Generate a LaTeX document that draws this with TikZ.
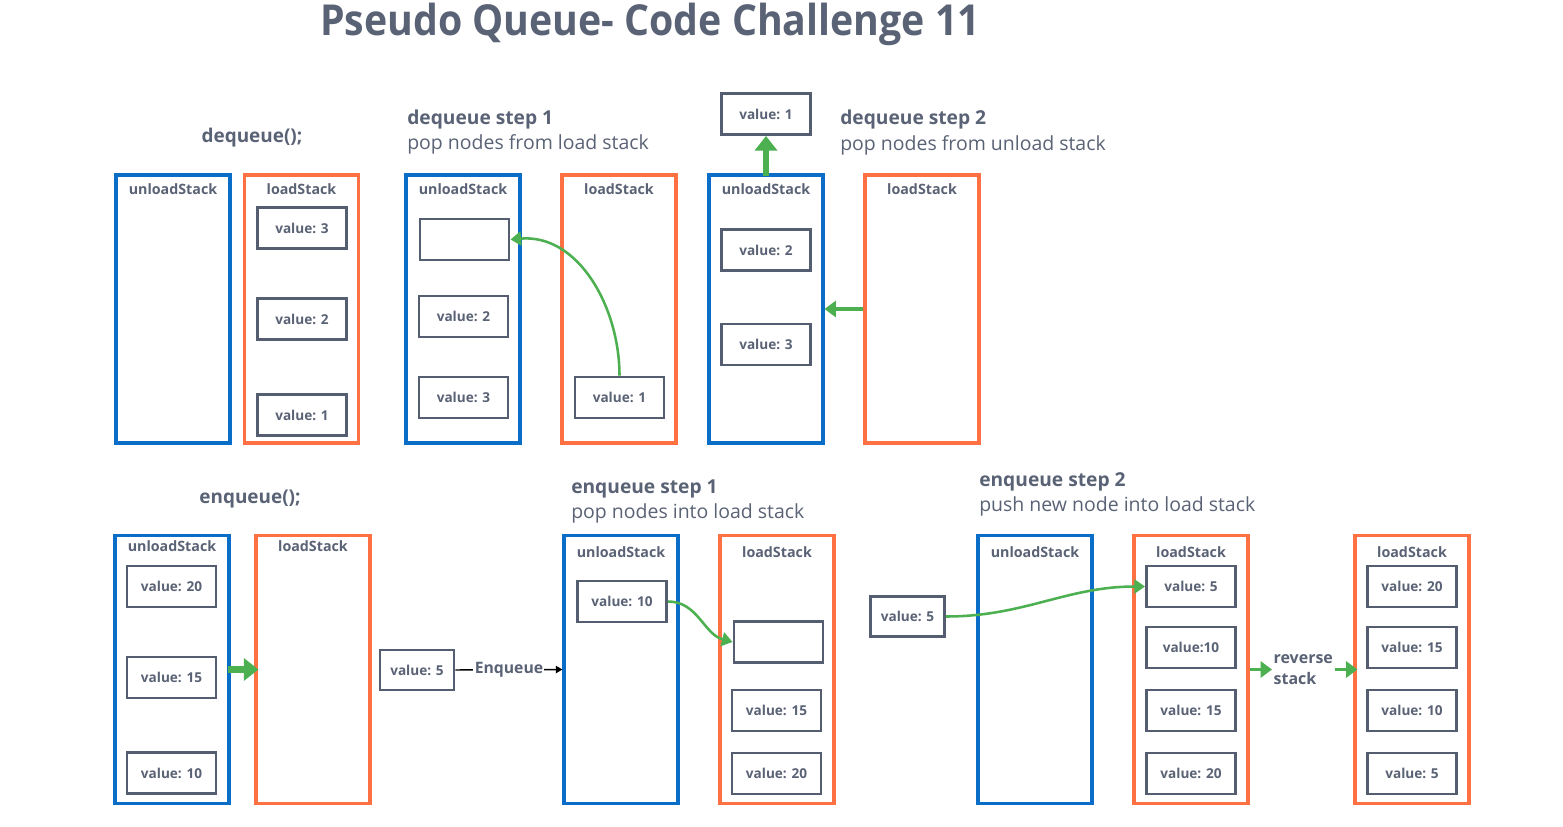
\documentclass[tikz,border=0pt]{standalone}
\usepackage{fontspec}
\setmainfont{Open Sans}
\newfontfamily\titlef[FakeStretch=0.92]{Open Sans}
\usetikzlibrary{arrows.meta}
\definecolor{ublue}{HTML}{0A6EC8}
\definecolor{lorange}{HTML}{FF7043}
\definecolor{sgray}{HTML}{555E70}
\definecolor{tgray}{HTML}{5A6275}
\definecolor{mgreen}{HTML}{4CAF50}
\tikzset{
  cont/.style={draw=#1, line width=2.3pt, minimum width=85.5pt, minimum height=201pt, inner sep=0pt},
  clabel/.style={text=tgray, font=\bfseries\fontsize{10.7pt}{13pt}\selectfont, inner sep=0pt},
  vbox/.style={draw=sgray, line width=2.2pt, minimum width=66.75pt, minimum height=30.75pt, inner sep=0pt,
    text=tgray, font=\bfseries\fontsize{10.2pt}{12pt}\selectfont},
  sbox/.style={vbox, minimum width=55.5pt, minimum height=30pt},
  heading/.style={anchor=base west, text=tgray, font=\bfseries\fontsize{14.4pt}{17pt}\selectfont, inner sep=0pt},
  subhead/.style={anchor=base west, text=tgray, font=\fontsize{14.6pt}{17pt}\selectfont, inner sep=0pt},
  fname/.style={anchor=base, text=tgray, font=\bfseries\fontsize{14.2pt}{17pt}\selectfont, inner sep=0pt},
  curvearrow/.style={draw=mgreen, line width=1.9pt, -{Triangle[length=8pt,width=10.5pt]}},
  midarrow/.style={draw=mgreen, line width=2.6pt, -{Triangle[length=8.5pt,width=12pt]}},
  bigarrow/.style={draw=mgreen, line width=4.9pt, -{Triangle[length=11pt,width=16.5pt]}},
  blackarrow/.style={draw=black, line width=1.1pt, -{Triangle[length=5pt,width=5.5pt]}},
}
\begin{document}
\begin{tikzpicture}[x=0.75pt, y=-0.75pt]
\useasboundingbox[fill=white] (0,0) rectangle (1563,827);

% title
\node[anchor=base, text=tgray, font=\titlef\bfseries\fontsize{32pt}{36pt}\selectfont, inner sep=0pt] (title) at (650,36) {Pseudo Queue- Code Challenge 11};

% ---------- dequeue ----------
\node[fname] (deq) at (252,143) {dequeue();};
\node[cont=ublue] (u1) at (173,309) {};
\node[cont=lorange] (l1) at (301.5,309) {};
\node[clabel] (u1t) at (173,189) {unloadStack};
\node[clabel] (l1t) at (301.5,189) {loadStack};
\node[vbox] (l1a) at (302,228) {value: 3};
\node[vbox] (l1b) at (302,319) {value: 2};
\node[vbox] (l1c) at (302,415) {value: 1};

% dequeue step 1
\node[heading] (ds1) at (407,125) {dequeue step 1};
\node[subhead] (ds1s) at (407,150) {pop nodes from load stack};
\node[cont=ublue] (u2) at (463,309) {};
\node[cont=lorange] (l2) at (619,309) {};
\node[clabel] (u2t) at (463,189) {unloadStack};
\node[clabel] (l2t) at (619,189) {loadStack};
\node[vbox] (u2e) at (464.5,239.5) {};
\node[vbox] (u2a) at (463.5,316.5) {value: 2};
\node[vbox] (u2b) at (463.5,397.5) {value: 3};
\node[vbox] (l2a) at (619.5,397.5) {value: 1};
\draw[curvearrow] (l2a.north) to[out=90, in=5] (u2e.east);

% dequeue step 2
\node[heading] (ds2) at (840,125) {dequeue step 2};
\node[subhead] (ds2s) at (840,151) {pop nodes from unload stack};
\node[vbox] (tv1) at (766,114) {value: 1};
\node[cont=ublue] (u3) at (766,309) {};
\node[cont=lorange] (l3) at (922,309) {};
\node[clabel] (u3t) at (766,189) {unloadStack};
\node[clabel] (l3t) at (922,189) {loadStack};
\node[vbox] (u3a) at (766,250) {value: 2};
\node[vbox] (u3b) at (766,344.5) {value: 3};
\draw[bigarrow] ([yshift=-2.25pt]u3.north) -- (tv1.south);
\draw[midarrow] (l3.west) -- (u3.east);

% ---------- enqueue ----------
\node[fname] (enq) at (250,503) {enqueue();};
\node[cont=ublue] (u4) at (172,669.5) {};
\node[cont=lorange] (l4) at (313,669.5) {};
\node[clabel] (u4t) at (172,546) {unloadStack};
\node[clabel] (l4t) at (313,546) {loadStack};
\node[vbox] (u4a) at (171.5,586.5) {value: 20};
\node[vbox] (u4b) at (171.5,677.5) {value: 15};
\node[vbox] (u4c) at (171.5,773) {value: 10};
\draw[bigarrow] ([xshift=-2.25pt]u4.east) -- ([xshift=3pt]l4.west);

\node[sbox] (sv5) at (417,670) {value: 5};

% enqueue step 1
\node[heading] (es1) at (571,493) {enqueue step 1};
\node[subhead] (es1s) at (571,518) {pop nodes into load stack};
\node[cont=ublue] (u5) at (621,669.5) {};
\node[cont=lorange] (l5) at (777,669.5) {};
\node[clabel] (u5t) at (621,552) {unloadStack};
\node[clabel] (l5t) at (777,552) {loadStack};
\node[vbox] (u5a) at (622,601.5) {value: 10};
\node[vbox] (l5e) at (778.5,642) {};
\node[vbox] (l5a) at (776.5,710.5) {value: 15};
\node[vbox] (l5b) at (776.5,773.5) {value: 20};
\draw[blackarrow] (sv5.east) -- node[fill=white, inner sep=1pt, text=tgray, font=\bfseries\fontsize{11.8pt}{14pt}\selectfont] (enqlbl) {Enqueue} (u5.west);
\draw[curvearrow] (u5a.east) to[out=0, in=165] (l5e.west);

\node[sbox] (sv5b) at (907.5,616.5) {value: 5};

% enqueue step 2
\node[heading] (es2) at (979,486) {enqueue step 2};
\node[subhead] (es2s) at (979,511) {push new node into load stack};
\node[cont=ublue] (u6) at (1035,669.5) {};
\node[cont=lorange] (l6) at (1191,669.5) {};
\node[clabel] (u6t) at (1035,552) {unloadStack};
\node[clabel] (l6t) at (1191,552) {loadStack};
\node[vbox] (l6a) at (1191,586.5) {value: 5};
\node[vbox] (l6b) at (1191,647.5) {value:10};
\node[vbox] (l6c) at (1191,710.5) {value: 15};
\node[vbox] (l6d) at (1191,773.5) {value: 20};
\draw[curvearrow] (sv5b.east) to[out=0, in=180] (l6a.west);

\node[anchor=west, align=left, text=tgray, font=\bfseries\fontsize{12pt}{15.8pt}\selectfont, inner sep=1pt] (rev) at (1272,670) {reverse\\stack};
\node[cont=lorange] (l7) at (1412,669.5) {};
\node[clabel] (l7t) at (1412,552) {loadStack};
\node[vbox] (l7a) at (1412,586.5) {value: 20};
\node[vbox] (l7b) at (1412,647.5) {value: 15};
\node[vbox] (l7c) at (1412,710.5) {value: 10};
\node[vbox] (l7d) at (1412,773.5) {value: 5};
\draw[midarrow] (l6.east) -- (l6.east -| rev.west);
\draw[midarrow] (l7.west -| rev.east) -- ([xshift=3pt]l7.west);
\end{tikzpicture}
\end{document}
